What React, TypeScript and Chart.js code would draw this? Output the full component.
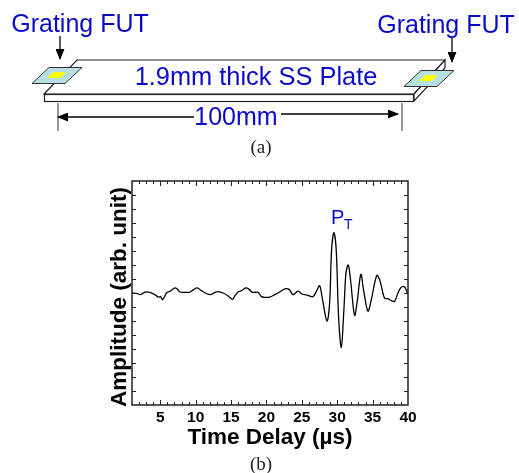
import React, { useEffect, useRef } from "react";
import { Chart, registerables } from "chart.js";

Chart.register(...registerables);

const timeDelay = [
  1.0, 1.66, 2.22, 2.83, 3.54, 4.24, 4.71, 5.04, 5.33, 5.89, 6.36, 7.06, 7.39, 7.77, 8.48, 9.18, 9.74, 10.21, 10.69,
  11.3, 12.1, 12.71, 13.18, 13.88, 14.59, 15.2, 15.53, 16.0, 16.47, 17.08, 17.55, 18.02, 18.82, 19.29, 19.76, 20.46,
  21.17, 21.87, 22.58, 23.19, 23.75, 24.46, 25.02, 25.87, 26.57, 27.04, 27.51, 27.89, 28.55, 28.92, 29.2, 29.53,
  29.86, 30.19, 30.57, 30.94, 31.23, 31.56, 31.88, 32.45, 32.82, 33.34, 33.72, 34.33, 34.8, 35.6, 36.07, 36.68,
  37.15, 37.48, 38.09, 38.56, 39.03, 39.5, 39.92,
];
const amplitude = [
  0.0, -0.02, -0.12, 0.07, 0.05, -0.12, -0.29, -0.26, -0.48, 0.02, 0.12, 0.36, 0.29, 0.07, 0.05, 0.07, 0.26, 0.36, 0.21,
  0.02, -0.12, 0.05, 0.1, 0.0, -0.21, -0.45, -0.21, 0.07, 0.17, 0.36, 0.26, 0.05, 0.05, -0.26, -0.31, -0.29,
  -0.12, 0.07, 0.29, 0.26, -0.12, 0.14, -0.07, -0.17, -0.26, 0.1, 0.52, -0.38, -2.0, -0.74, 3.07, 4.31,
  3.07, -1.69, -3.88, -1.21, 1.4, 2.0, 0.93, -1.6, -0.62, 1.33, 0.21, -1.29, -0.5, 1.26, 0.81, -0.38,
  -0.4, -0.5, -0.6, -0.02, 0.4, 0.45, 0.0,
];
const xTickLabels = [5, 10, 15, 20, 25, 30, 35, 40];
const xTitle = "Time Delay (µs)";
const yTitle = "Amplitude (arb. unit)";

const inwardTicks = {
  id: "inwardTicks",
  afterDraw(chart: any) {
    const { ctx, chartArea: a, scales } = chart;
    ctx.save();
    ctx.strokeStyle = "#222";
    ctx.lineWidth = 1;
    ctx.beginPath();
    scales.x.ticks.forEach((t: any) => {
      if (t.value === 1 || t.value === 40) return;
      const p = Math.round(scales.x.getPixelForValue(t.value)) + 0.5;
      const len = t.value % 5 === 0 ? 5 : 3;
      ctx.moveTo(p, a.bottom);
      ctx.lineTo(p, a.bottom - len);
      ctx.moveTo(p, a.top);
      ctx.lineTo(p, a.top + len);
    });
    scales.y.ticks.forEach((t: any) => {
      if (t.value === -8 || t.value === 8) return;
      const p = Math.round(scales.y.getPixelForValue(t.value)) + 0.5;
      ctx.moveTo(a.left, p);
      ctx.lineTo(a.left + 4, p);
      ctx.moveTo(a.right, p);
      ctx.lineTo(a.right - 4, p);
    });
    ctx.stroke();
    ctx.lineWidth = 1.5;
    ctx.strokeStyle = "#222";
    ctx.strokeRect(a.left, a.top, a.right - a.left, a.bottom - a.top);
    ctx.restore();
  },
};

const BLUE = "#0a0ac8";
const sans = "'Liberation Sans', Arial, sans-serif";
const serif = "'Liberation Serif', 'Times New Roman', serif";

function Arrow({ x1, y1, x2, y2 }: { x1: number; y1: number; x2: number; y2: number }) {
  return <line x1={x1} y1={y1} x2={x2} y2={y2} stroke="#000" strokeWidth={1.3} markerEnd="url(#ah)" />;
}

function Sensor({ dx, dy }: { dx: number; dy: number }) {
  return (
    <g transform={`translate(${dx} ${dy})`}>
      <polygon points="32,83.5 49,67.5 82,67.5 65,83.5" fill="#b5dfe2" stroke="#333" strokeWidth={1} />
      <polygon points="47,78 53.5,72 66,72 60,78" fill="#ffff00" />
    </g>
  );
}

export default function App() {
  const ref = useRef<HTMLCanvasElement>(null);
  useEffect(() => {
    const chart = new Chart(ref.current!, {
      type: "line",
      data: {
        datasets: [
          {
            data: timeDelay.map((x, i) => ({ x, y: amplitude[i] })),
            borderColor: "#000",
            borderWidth: 1.3,
            pointRadius: 0,
            tension: 0.35,
            clip: false,
          },
        ],
      },
      options: {
        animation: false,
        responsive: false,
        devicePixelRatio: 1,
        plugins: { legend: { display: false }, tooltip: { enabled: false } },
        layout: { padding: { left: 132, top: 181, right: 111, bottom: 68 } },
        scales: {
          x: {
            type: "linear",
            min: 1,
            max: 40,
            grid: { display: false },
            border: { display: false },
            afterBuildTicks: (s: any) => {
              s.ticks = [];
              for (let v = 1; v <= 40; v++) s.ticks.push({ value: v });
            },
            afterFit: (s: any) => {
              s.height = 0;
            },
            ticks: { display: false },
          },
          y: {
            type: "linear",
            min: -8,
            max: 8,
            grid: { display: false },
            border: { display: false },
            afterFit: (s: any) => {
              s.width = 0;
            },
            ticks: { stepSize: 1, display: false },
          },
        },
      },
      plugins: [
        inwardTicks,
        {
          id: "axisText",
          afterDraw(c: any) {
            const { ctx, scales, chartArea: a } = c;
            ctx.save();
            ctx.fillStyle = "#000";
            ctx.textAlign = "center";
            ctx.textBaseline = "alphabetic";
            ctx.font = `bold 15.5px ${sans}`;
            xTickLabels.forEach((v) => ctx.fillText(String(v), scales.x.getPixelForValue(v), a.bottom + 17));
            ctx.font = `bold 22.5px ${sans}`;
            ctx.fillText(xTitle, (a.left + a.right) / 2, a.bottom + 39);
            ctx.translate(a.left - 6, (a.top + a.bottom) / 2 + 4);
            ctx.rotate(-Math.PI / 2);
            ctx.fillText(yTitle, 0, 0);
            ctx.restore();
          },
        },
      ],
    } as any);
    return () => chart.destroy();
  }, []);

  return (
    <div style={{ position: "absolute", left: 0, top: 0, width: 519, height: 473, background: "#fff", overflow: "hidden" }}>
      <canvas ref={ref} width={519} height={473} style={{ position: "absolute", left: 0, top: 0, width: 519, height: 473 }} />
      <svg width={519} height={473} style={{ position: "absolute", left: 0, top: 0 }}>
        <defs>
          <marker id="ah" markerWidth="11" markerHeight="9" refX="10" refY="4.5" orient="auto" markerUnits="userSpaceOnUse">
            <path d="M0,0 L11,4.5 L0,9 Z" fill="#000" />
          </marker>
        </defs>
        <polygon points="77,60 445,60 414,94 44,94" fill="#fff" stroke="#222" strokeWidth={1.2} />
        <rect x={44.5} y={94.5} width={369} height={7} fill="#fff" stroke="#222" strokeWidth={1.2} />
        <polygon points="414,94 445,60 445,68 414,101" fill="#fff" stroke="#222" strokeWidth={1.2} />
        <Sensor dx={0} dy={0} />
        <Sensor dx={372} dy={3} />
        <Arrow x1={60} y1={36} x2={60} y2={59} />
        <Arrow x1={452} y1={38} x2={452} y2={62} />
        <line x1={58} y1={103} x2={58} y2={131} stroke="#333" />
        <line x1={402} y1={103} x2={402} y2={131} stroke="#333" />
        <Arrow x1={194} y1={117} x2={58} y2={117} />
        <Arrow x1={281} y1={114} x2={398} y2={114} />
        <g fontFamily={sans} fill={BLUE} textAnchor="middle">
          <text x={80} y={32} fontSize={25}>Grating FUT</text>
          <text x={446} y={33} fontSize={25}>Grating FUT</text>
          <text x={256} y={85} fontSize={25.4}>1.9mm thick SS Plate</text>
          <text x={236} y={125} fontSize={25}>100mm</text>
          <text x={331} y={224} fontSize={20} textAnchor="start">P</text>
          <text x={344} y={229} fontSize={14} textAnchor="start">T</text>
        </g>
        <text x={261} y={153} fontFamily={serif} fontSize={19} fill="#222" textAnchor="middle">(a)</text>
        <text x={261} y={470} fontFamily={serif} fontSize={19} fill="#222" textAnchor="middle">(b)</text>
      </svg>
    </div>
  );
}
